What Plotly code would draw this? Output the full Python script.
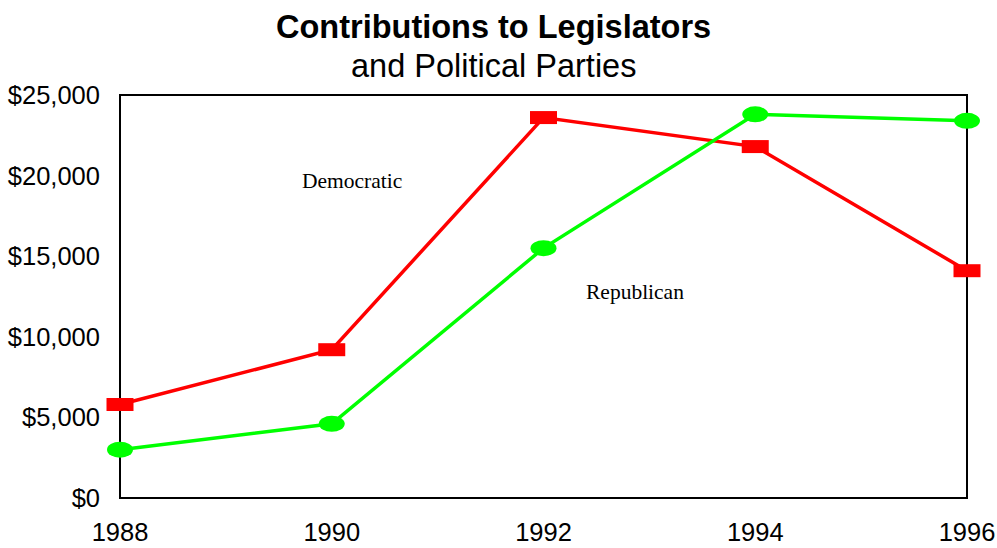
import plotly.graph_objects as go

years = [1988, 1990, 1992, 1994, 1996]
democratic = [5800, 9200, 23600, 21800, 14100]   # red squares
republican = [3000, 4600, 15500, 23800, 23400]   # green ellipses
y_ticks = [0, 5000, 10000, 15000, 20000, 25000]
y_tick_labels = ["$0", "$5,000", "$10,000", "$15,000", "$20,000", "$25,000"]
labels = ["Democratic", "Republican"]
label_pos_x = [1990.19, 1992.86]
label_pos_y = [19650, 12750]
y_max = 25000

RED = "#FF0000"
GREEN = "#00FF00"

X_PAD = 0.1322   # years of padding so edge markers are not clipped
Y_PAD = 186

fig = go.Figure()
fig.add_trace(go.Scatter(x=years, y=democratic, mode="lines",
                         line=dict(color=RED, width=3.5), name=labels[0],
                         showlegend=False, cliponaxis=False))
fig.add_trace(go.Scatter(x=years, y=republican, mode="lines",
                         line=dict(color=GREEN, width=3.5), name=labels[1],
                         showlegend=False, cliponaxis=False))

shapes = [dict(type="rect", xref="x", yref="y", x0=years[0], x1=years[-1], y0=0, y1=y_max,
               line=dict(color="black", width=2), fillcolor="rgba(0,0,0,0)", layer="below")]
for x, y in zip(years, democratic):
    shapes.append(dict(type="rect", xref="x", yref="y", xsizemode="pixel", ysizemode="pixel",
                       xanchor=x, yanchor=y, x0=-13.5, x1=13.5, y0=-6.5, y1=6.5,
                       fillcolor=RED, line=dict(width=0), layer="above"))
for x, y in zip(years, republican):
    shapes.append(dict(type="circle", xref="x", yref="y", xsizemode="pixel", ysizemode="pixel",
                       xanchor=x, yanchor=y, x0=-13, x1=13, y0=-8, y1=8,
                       fillcolor=GREEN, line=dict(width=0), layer="above"))

fig.update_layout(
    width=997, height=548,
    margin=dict(l=106, r=16, t=92, b=47),
    paper_bgcolor="white", plot_bgcolor="white",
    shapes=shapes,
    showlegend=False,
)

fig.add_annotation(text="<b>Contributions to Legislators</b>", xref="paper", yref="paper",
                   x=0.4434, y=1, yshift=65, yanchor="middle", showarrow=False,
                   font=dict(family="Liberation Sans, Arial", size=32.5, color="black"))
fig.add_annotation(text="and Political Parties", xref="paper", yref="paper",
                   x=0.4434, y=1, yshift=26, yanchor="middle", showarrow=False,
                   font=dict(family="Liberation Sans, Arial", size=32.5, color="black"))
for t, x, y in zip(labels, label_pos_x, label_pos_y):
    fig.add_annotation(text=t, x=x, y=y, xref="x", yref="y", showarrow=False,
                       font=dict(family="Liberation Serif, Times New Roman", size=21.5, color="black"))

fig.update_xaxes(range=[years[0] - X_PAD, years[-1] + X_PAD], tickvals=years,
                 ticktext=[str(y) for y in years], automargin=False,
                 showgrid=False, zeroline=False, showline=False, ticks="", ticklabelstandoff=13,
                 tickfont=dict(family="Liberation Sans, Arial", size=25.5, color="black"))
fig.update_yaxes(range=[-Y_PAD, y_max + Y_PAD], tickvals=y_ticks, ticktext=y_tick_labels,
                 automargin=False,
                 showgrid=False, zeroline=False, showline=False, ticks="", ticklabelstandoff=5,
                 tickfont=dict(family="Liberation Sans, Arial", size=25.5, color="black"))

fig.write_html("out.html")
